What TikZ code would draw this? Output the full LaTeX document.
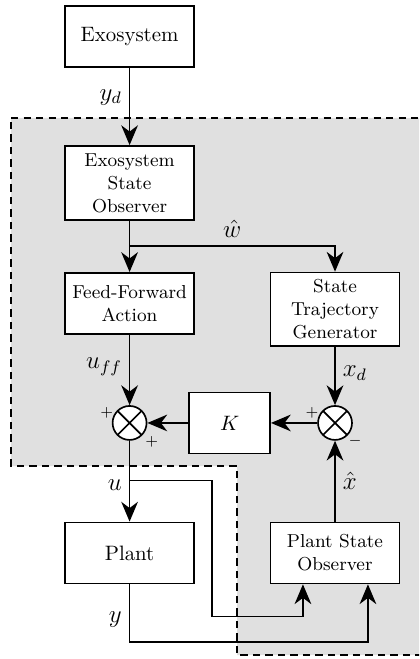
\documentclass[tikz,border=0pt]{standalone}
\usetikzlibrary{arrows.meta}
\usetikzlibrary{positioning}

\tikzset{
  block/.style={draw, fill=white, line width=0.8pt, minimum width=62pt, minimum height=29.3pt, align=center},
  sumnode/.style={draw, circle, fill=white, line width=0.8pt, minimum size=16.3pt, inner sep=0pt,
    path picture={\draw[line width=0.8pt] (path picture bounding box.north west) -- (path picture bounding box.south east)
      (path picture bounding box.north east) -- (path picture bounding box.south west);}},
  sign/.style={font=\scriptsize, inner sep=0pt},
  lbl/.style={font=\large},
  conn/.style={line width=0.8pt},
  >={Stealth[length=9.5pt, width=8pt, inset=3pt]}
}

\begin{document}
\begin{tikzpicture}
          \useasboundingbox (-62.2pt,17.5pt) rectangle (139pt,-298.8pt);
          \clip (-62.2pt,17.5pt) rectangle (139pt,-298.8pt);

          % controller region
          \draw[fill=black!12, line width=0.8pt, dash pattern=on 3.5pt off 2.5pt]
          (-56.9pt,-39.1pt) -- (150pt,-39.1pt) -- (150pt,-296.9pt) -- (51.6pt,-296.9pt)
          -- (51.6pt,-206.2pt) -- (-56.9pt,-206.2pt) -- cycle;

          \node[block] (exo) {Exosystem};
          \node[block, below of=exo, node distance=70.3pt, minimum height=35.5pt, font=\small] (eso) {Exosystem\\State\\Observer};
          \node[block, below of=eso, node distance=57.8pt, font=\small] (ffa) {Feed-Forward\\Action};
          \node[block, right of=ffa, node distance=98.6pt, yshift=-2.8pt, minimum height=35pt, font=\small] (stg) {State\\Trajectory\\Generator};
          \node[sumnode, below of=ffa, node distance=57.4pt] (sumL) {};
          \node[sumnode, right of=sumL, node distance=98.6pt] (sumR) {};
          \node[block, right of=sumL, node distance=48pt, minimum width=38.9pt] (K) {$K$};
          \node[block, below of=sumL, node distance=62.4pt] (plant) {Plant};
          \node[block, right of=plant, node distance=98.6pt, font=\small] (pso) {Plant State\\Observer};

          \node[sign] (pL1) at ([shift={(-11pt,4.8pt)}]sumL) {$+$};
          \node[sign] (pL2) at ([shift={(10.6pt,-9.1pt)}]sumL) {$+$};
          \node[sign] (pR1) at ([shift={(-11pt,4.8pt)}]sumR) {$+$};
          \node[sign] (pR2) at ([shift={(9.6pt,-8.6pt)}]sumR) {$-$};

          \coordinate[below=12pt of eso.south] (wb);
          \coordinate[above=19.7pt of plant.north] (ub);
          \coordinate (uin) at ([xshift=-15.4pt]pso.south);
          \coordinate (yin) at ([xshift=15.8pt]pso.south);

          \draw[conn, ->] (exo) -- node[lbl, left, pos=0.38]{$y_d$} (eso);
          \draw[conn] (eso) -- (wb);
          \draw[conn, ->] (wb) -- (ffa);
          \draw[conn, ->] (wb) -| node[lbl, above, pos=0.25]{$\hat{w}$} (stg);
          \draw[conn, ->] (ffa) -- node[lbl, left, pos=0.45]{$u_{ff}$} (sumL);
          \draw[conn, ->] (stg) -- node[lbl, right, pos=0.45]{$x_d$} (sumR);
          \draw[conn, ->] (sumR) -- (K);
          \draw[conn, ->] (K) -- (sumL);
          \draw[conn, ->] (sumL) -- node[lbl, left, pos=0.55]{$u$} (plant);
          \draw[conn, ->] (ub) -- ++(39.6pt,0) |- ([yshift=-15.4pt]uin) -- (uin);
          \draw[conn, ->] (plant.south) -- node[lbl, left, pos=0.6]{$y$} ++(0,-27.8pt) -| (yin);
          \draw[conn, ->] (pso) -- node[lbl, right]{$\hat{x}$} (sumR);
        \end{tikzpicture}
\end{document}
